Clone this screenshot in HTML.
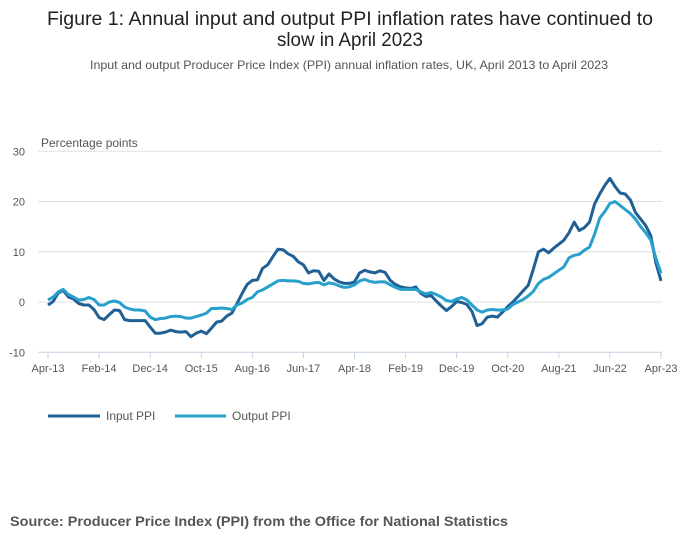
<!DOCTYPE html>
<html><head><meta charset="utf-8"><style>
html,body{margin:0;padding:0;background:#fff;}
svg{display:block;font-family:"Liberation Sans",sans-serif;}
</style></head><body>
<svg id="chart" width="700" height="549" viewBox="0 0 700 549" xmlns="http://www.w3.org/2000/svg">
<text x="350" y="25" text-anchor="middle" font-size="19" fill="#222" textLength="606" lengthAdjust="spacingAndGlyphs">Figure 1: Annual input and output PPI inflation rates have continued to</text>
<text x="350" y="46" text-anchor="middle" font-size="19" fill="#222" textLength="146" lengthAdjust="spacingAndGlyphs">slow in April 2023</text>
<text x="349" y="69" text-anchor="middle" font-size="12" fill="#555" textLength="518" lengthAdjust="spacingAndGlyphs">Input and output Producer Price Index (PPI) annual inflation rates, UK, April 2013 to April 2023</text>
<text x="41" y="147" font-size="12" fill="#555">Percentage points</text>
<g id="grid"></g><g id="xaxis"></g><g id="series"></g>
<g>
<line x1="48" y1="416" x2="100" y2="416" stroke="#206095" stroke-width="3"/>
<text x="106" y="420" font-size="12" fill="#555">Input PPI</text>
<line x1="175" y1="416" x2="226" y2="416" stroke="#27a0cc" stroke-width="3"/>
<text x="232" y="420" font-size="12" fill="#555">Output PPI</text>
</g>
<text x="10" y="526" font-size="14" font-weight="bold" fill="#555" textLength="498" lengthAdjust="spacingAndGlyphs">Source: Producer Price Index (PPI) from the Office for National Statistics</text>
</svg>
<script>
const yTicks=[30,20,10,0,-10];
const xTickLabels=["Apr-13","Feb-14","Dec-14","Oct-15","Aug-16","Jun-17","Apr-18","Feb-19","Dec-19","Oct-20","Aug-21","Jun-22","Apr-23"];
const xTickMonths=[0,10,20,30,40,50,60,70,80,90,100,110,120];
const inputPPI=[-0.6,0.1,1.8,2.3,1.0,0.6,-0.3,-0.6,-0.6,-1.5,-3.1,-3.5,-2.5,-1.6,-1.7,-3.5,-3.7,-3.7,-3.7,-3.7,-5.0,-6.2,-6.2,-6.0,-5.6,-5.9,-6.0,-5.9,-6.9,-6.2,-5.8,-6.3,-5.2,-4.0,-3.8,-2.8,-2.2,-0.3,1.7,3.5,4.3,4.4,6.7,7.4,9.0,10.5,10.4,9.6,9.1,8.0,7.4,5.8,6.2,6.1,4.3,5.6,4.6,4.0,3.7,3.7,4.0,5.8,6.3,6.0,5.8,6.2,5.9,4.3,3.5,3.0,2.8,2.7,3.0,1.7,1.1,1.3,0.2,-0.8,-1.7,-0.9,0.1,-0.1,-0.5,-1.9,-4.7,-4.3,-3.0,-2.8,-3.0,-2.0,-0.9,0.0,1.1,2.2,3.3,6.5,10.0,10.5,9.8,10.7,11.5,12.3,13.8,15.9,14.2,14.8,15.9,19.5,21.5,23.2,24.6,23.0,21.7,21.5,20.3,17.8,16.5,15.2,13.2,7.8,4.2];
const outputPPI=[0.4,1.0,2.0,2.5,1.5,1.0,0.4,0.5,0.9,0.5,-0.6,-0.6,0.0,0.2,-0.1,-1.0,-1.4,-1.6,-1.6,-1.8,-3.0,-3.5,-3.3,-3.2,-2.9,-2.8,-2.9,-3.2,-3.2,-2.9,-2.6,-2.2,-1.3,-1.3,-1.2,-1.3,-1.5,-0.6,-0.2,0.5,0.9,2.0,2.4,3.0,3.6,4.2,4.3,4.2,4.2,4.1,3.7,3.6,3.8,3.9,3.4,3.8,3.6,3.2,2.9,3.0,3.4,4.2,4.5,4.1,3.9,4.0,4.0,3.4,2.9,2.5,2.5,2.5,2.5,2.0,1.6,1.9,1.5,1.0,0.3,0.1,0.6,0.9,0.4,-0.6,-1.6,-2.0,-1.6,-1.5,-1.6,-1.6,-1.4,-0.5,0.0,0.5,1.2,2.1,3.7,4.5,4.9,5.6,6.3,7.0,8.8,9.3,9.5,10.3,10.9,13.5,16.7,18.0,19.6,20.0,19.2,18.4,17.6,16.5,15.0,13.8,12.3,8.7,5.7];
const NS="http://www.w3.org/2000/svg";
const x=m=>48+m*(613/120);
const y=v=>302-v*5.025;
const grid=document.getElementById('grid');
yTicks.forEach(t=>{
  if(t!==-10){
    const l=document.createElementNS(NS,'line');
    
    
    l.setAttribute('x1',38);l.setAttribute('x2',662);l.setAttribute('y1',y(t));l.setAttribute('y2',y(t));
    l.setAttribute('stroke','#e0e0e0');l.setAttribute('stroke-width','1');
    grid.appendChild(l);
  }
  const tx=document.createElementNS(NS,'text');
  
  
  tx.setAttribute('x',25);tx.setAttribute('y',y(t)+4);tx.setAttribute('text-anchor','end');
  tx.setAttribute('font-size','11');tx.setAttribute('fill','#555');tx.textContent=t;
  grid.appendChild(tx);
});
const xa=document.getElementById('xaxis');
const al=document.createElementNS(NS,'line');


al.setAttribute('x1',38);al.setAttribute('x2',662);al.setAttribute('y1',y(-10));al.setAttribute('y2',y(-10));
al.setAttribute('stroke','#c5d0e0');al.setAttribute('stroke-width','1');
xa.appendChild(al);
xTickMonths.forEach((m,i)=>{
  const tk=document.createElementNS(NS,'line');
  
  
  tk.setAttribute('x1',x(m));tk.setAttribute('x2',x(m));tk.setAttribute('y1',y(-10));tk.setAttribute('y2',y(-10)+6);
  tk.setAttribute('stroke','#c5d0e0');
  xa.appendChild(tk);
  const tx=document.createElementNS(NS,'text');
  
  
  tx.setAttribute('x',x(m));tx.setAttribute('y',372);tx.setAttribute('text-anchor','middle');
  tx.setAttribute('font-size','11');tx.setAttribute('fill','#555');tx.textContent=xTickLabels[i];
  xa.appendChild(tx);
});
const sg=document.getElementById('series');
function draw(data,color,name){
  const p=document.createElementNS(NS,'path');
  
  
  p.setAttribute('d',data.map((v,i)=>(i?'L':'M')+x(i).toFixed(1)+','+y(v).toFixed(1)).join(''));
  p.setAttribute('fill','none');p.setAttribute('stroke',color);p.setAttribute('stroke-width','3');
  p.setAttribute('stroke-linejoin','round');
  sg.appendChild(p);
}
draw(inputPPI,'#206095','input-ppi-line');
draw(outputPPI,'#27a0cc','output-ppi-line');
</script>
</body></html>
